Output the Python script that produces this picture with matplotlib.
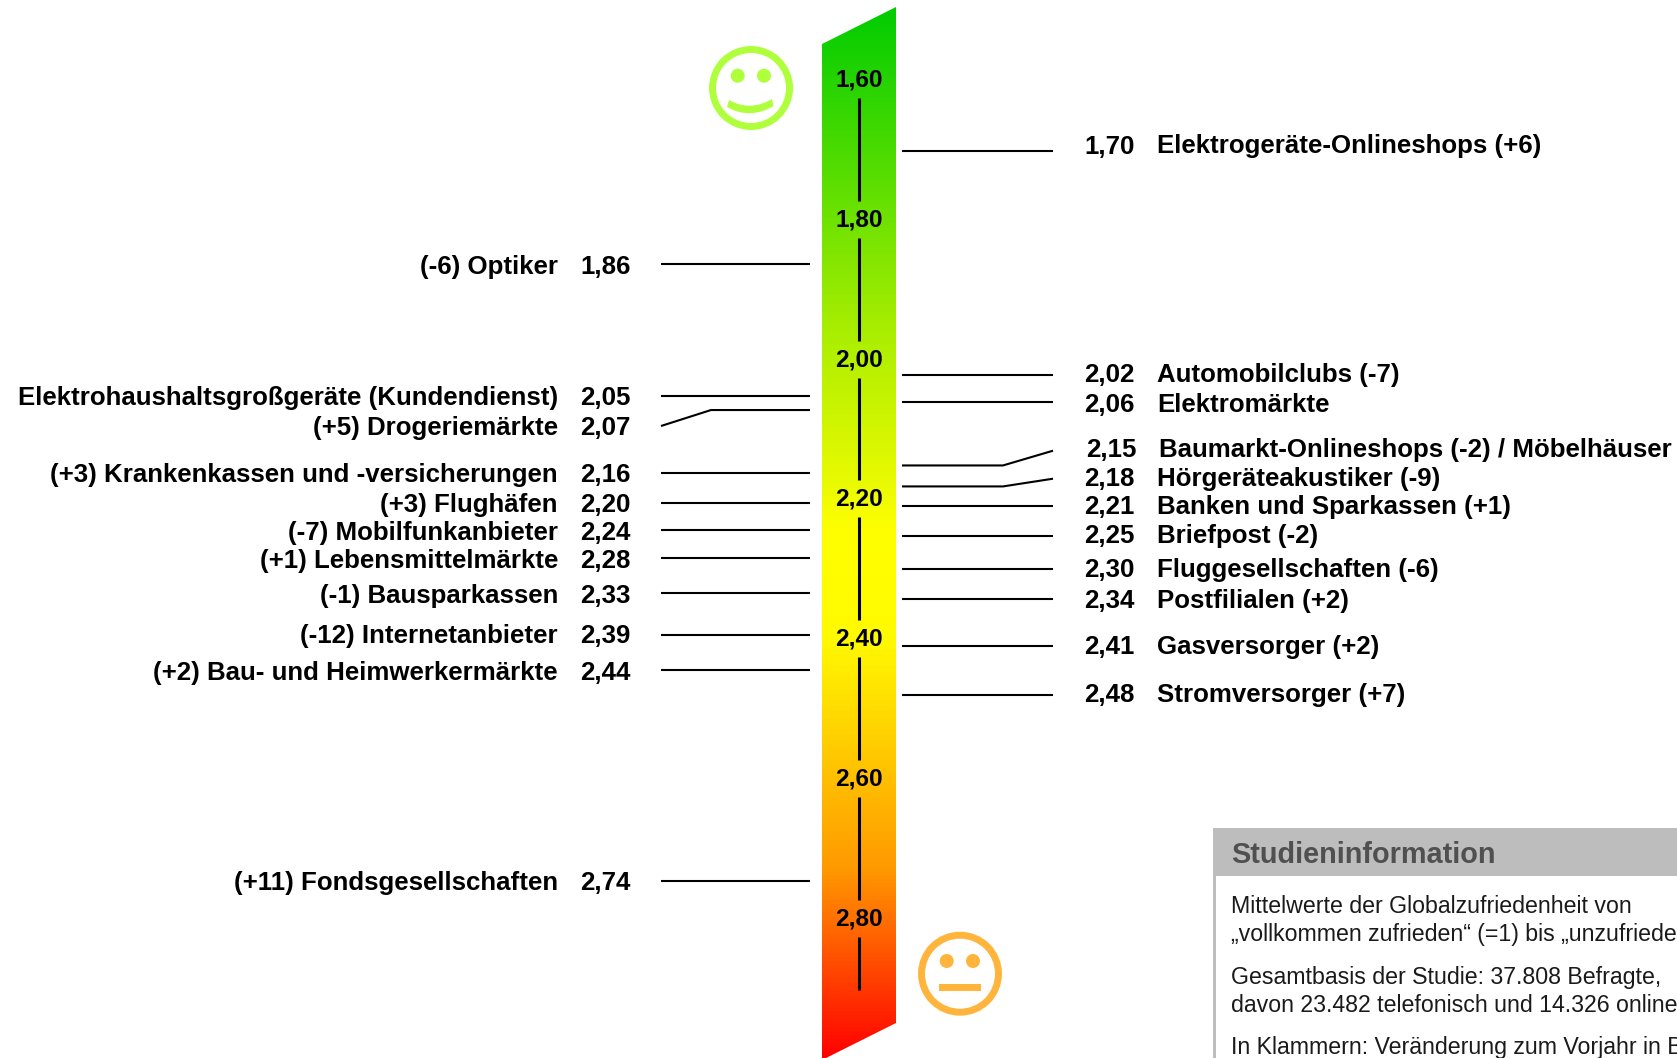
import matplotlib
matplotlib.use("Agg")
import matplotlib.pyplot as plt
import numpy as np
from matplotlib.colors import LinearSegmentedColormap
from matplotlib.patches import Circle, Polygon, Rectangle, PathPatch
from matplotlib.path import Path

plt.rcParams['font.family'] = ['Liberation Sans', 'DejaVu Sans']

W, H = 1677, 1058

# data
ticks = [1.60, 1.80, 2.00, 2.20, 2.40, 2.60, 2.80]
left_names = ["(-6) Optiker", "Elektrohaushaltsgroßgeräte (Kundendienst)", "(+5) Drogeriemärkte",
              "(+3) Krankenkassen und -versicherungen", "(+3) Flughäfen", "(-7) Mobilfunkanbieter",
              "(+1) Lebensmittelmärkte", "(-1) Bausparkassen", "(-12) Internetanbieter",
              "(+2) Bau- und Heimwerkermärkte", "(+11) Fondsgesellschaften"]
left_vals = [1.86, 2.05, 2.07, 2.16, 2.20, 2.24, 2.28, 2.33, 2.39, 2.44, 2.74]
right_names = ["Elektrogeräte-Onlineshops (+6)", "Automobilclubs (-7)", "Elektromärkte",
               "Baumarkt-Onlineshops (-2) / Möbelhäuser", "Hörgeräteakustiker (-9)",
               "Banken und Sparkassen (+1)", "Briefpost (-2)", "Fluggesellschaften (-6)",
               "Postfilialen (+2)", "Gasversorger (+2)", "Stromversorger (+7)"]
right_vals = [1.70, 2.02, 2.06, 2.15, 2.18, 2.21, 2.25, 2.30, 2.34, 2.41, 2.48]
info_title = "Studieninformation"
info_lines = ["Mittelwerte der Globalzufriedenheit von",
              "„vollkommen zufrieden“ (=1) bis „unzufrieden“",
              "Gesamtbasis der Studie: 37.808 Befragte,",
              "davon 23.482 telefonisch und 14.326 online",
              "In Klammern: Veränderung zum Vorjahr in Bezug"]

# layout, in pixels
left_label_y = [265, 396, 426, 473, 503, 531, 559, 594, 634, 671, 881]
right_label_y = [144.5, 373, 403, 448, 477, 505, 534, 568, 599, 645, 693]
left_line_dy = [1.5, 0.5, 0.5, 1, 3, 2, 2, 2, 1.5, 2, 3]
right_line_dy = [0, 0, -0.5, 0, 0, -1, 0.5, -1, 0.5, -1, -1]
info_y = [913.3, 940.7, 984, 1011.7, 1054]

fig = plt.figure(figsize=(W / 100, H / 100), dpi=100)
ax = fig.add_axes([0, 0, 1, 1])
ax.set_xlim(0, W)
ax.set_ylim(H, 0)
ax.axis("off")

# second axes on the same area, y in score units
ax_s = fig.add_axes([0, 0, 1, 1], frameon=False)
ax_s.set_xlim(0, W)
ax_s.set_ylim(1.6 + (H - 81) / 699, 1.6 - 81 / 699)
ax_s.axis("off")


def py(s):
    return 81 + (s - 1.6) * 699


def fmt(v):
    return f"{v:.2f}".replace(".", ",")


# gradient bar
cmap = LinearSegmentedColormap.from_list("bar", [
    (0.0, (0.0, 0.80, 0.0)),
    (0.30, (0.65, 0.93, 0.0)),
    (0.50, (1.0, 1.0, 0.0)),
    (0.60, (1.0, 0.98, 0.0)),
    (0.82, (1.0, 0.60, 0.0)),
    (1.0, (1.0, 0.0, 0.0))])
grad = np.linspace(0, 1, 512).reshape(-1, 1)
im = ax.imshow(grad, cmap=cmap, extent=(822, 896, 1060, 7), aspect="auto", zorder=1)
bar = Polygon([(822, 44), (896, 7), (896, 1023), (822, 1060)], closed=True, fc="none", ec="none")
ax.add_patch(bar)
im.set_clip_path(bar)
ax.set_xlim(0, W)
ax.set_ylim(H, 0)

# scale labels and centre line
for i, t in enumerate(ticks):
    ax.text(859, py(t) + 5.5, fmt(t), ha="center", va="baseline",
            fontsize=17.6, fontweight="bold", color="black", zorder=5)
    end = ticks[i + 1] - 20 / 699 if i + 1 < len(ticks) else t + 70 / 699
    ax_s.plot([859, 859], [t + 17 / 699, end], color="black", lw=2.2, solid_capstyle="butt", zorder=5)

# left side
for name, val, ly, dy in zip(left_names, left_vals, left_label_y, left_line_dy):
    ax.text(558, ly + 9, name, ha="right", va="baseline", fontsize=18.65, fontweight="bold", color="black")
    ax.text(630.5, ly + 9, fmt(val), ha="right", va="baseline", fontsize=18.65, fontweight="bold", color="black")
    if val == 2.07:
        ax.plot([810, 711, 661], [py(val) + dy, py(val) + dy, 426], color="black", lw=1.5, solid_capstyle="butt")
    else:
        ax_s.plot([661, 810], [val + dy / 699, val + dy / 699], color="black", lw=1.5, solid_capstyle="butt")

# right side
for name, val, ly, dy in zip(right_names, right_vals, right_label_y, right_line_dy):
    off = 2 if val == 2.15 else 0
    ax.text(1084.5 + off, ly + 9, fmt(val), ha="left", va="baseline",
            fontsize=18.65, fontweight="bold", color="black")
    ax.text(1157 + off, ly + 9, name, ha="left", va="baseline", fontsize=18.65, fontweight="bold", color="black")
    if val == 2.15:
        ax.plot([902, 1003, 1053], [py(val), py(val), 450.7], color="black", lw=1.5, solid_capstyle="butt")
    elif val == 2.18:
        ax.plot([902, 1003, 1053], [py(val), py(val), 478.7], color="black", lw=1.5, solid_capstyle="butt")
    else:
        ax_s.plot([902, 1053], [val + dy / 699, val + dy / 699], color="black", lw=1.5, solid_capstyle="butt")

# smileys
green = "#B0FF3C"
orange = "#FFB43C"
ax.add_patch(Circle((751, 88), 38.5, fc="none", ec=green, lw=5))
for ex in (737.7, 764):
    ax.add_patch(Circle((ex, 75.7), 7, fc=green, ec="none"))
smile = Path([(729, 100), (750, 112), (772, 99), (773.5, 106), (750, 120), (727, 107), (729, 100)],
             [Path.MOVETO, Path.CURVE3, Path.CURVE3, Path.LINETO, Path.CURVE3, Path.CURVE3, Path.CLOSEPOLY])
ax.add_patch(PathPatch(smile, fc=green, ec="none"))

ax.add_patch(Circle((960, 973.7), 38.5, fc="none", ec=orange, lw=5))
for ex in (946.7, 973):
    ax.add_patch(Circle((ex, 961), 7, fc=orange, ec="none"))
ax.add_patch(Rectangle((939.3, 984), 41.7, 7, fc=orange, ec="none"))

# info box
ax.add_patch(Rectangle((1213, 827.5), W - 1213, 48.5, fc="#BDBDBD", ec="none"))
ax.add_patch(Rectangle((1213, 827.5), 3, H - 827.5, fc="#BDBDBD", ec="none"))
ax.text(1231, 862.7, info_title, ha="left", va="baseline", fontsize=20.75, fontweight="bold", color="#505050")
for line, ly in zip(info_lines, info_y):
    ax.text(1231.5, ly, line, ha="left", va="baseline", fontsize=16.7, color="#1a1a1a")

fig.savefig("out.png", dpi=100)
